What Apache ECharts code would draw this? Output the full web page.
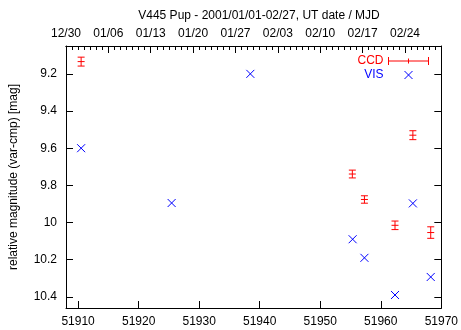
<!DOCTYPE html>
<html>
<head>
<meta charset="utf-8">
<script src="https://cdn.jsdelivr.net/npm/echarts@6/dist/echarts.min.js"></script>
<style>
html,body{margin:0;padding:0;background:#fff;}
#c{width:461px;height:330px;}
</style>
</head>
<body>
<div id="c"></div>
<script>
// ---- data ----
const visMjd = [51910.5, 51925.45, 51938.45, 51955.35, 51957.3, 51962.35, 51965.3, 51968.25];
const visMag = [9.6, 9.895, 9.2, 10.09, 10.19, 10.39, 9.897, 10.293];
const ccdMjd = [51910.5, 51955.3, 51957.3, 51962.35, 51965.3, 51968.25];
const ccdMag = [9.134, 9.739, 9.876, 10.015, 9.53, 10.054];
const ccdErr = [0.024, 0.021, 0.02, 0.023, 0.024, 0.031];
const topLabels = ['12/30','01/06','01/13','01/20','01/27','02/03','02/10','02/17','02/24'];
const mjdStart = 51908;   // 12/30
const mjdEnd = 51970;
const magMin = 9.05, magMax = 10.46;

const FONT = 'Liberation Sans, Arial, sans-serif';
const chart = echarts.init(document.getElementById('c'), null, {renderer:'canvas'});

const ccdData = ccdMjd.map((m,i)=>[m, ccdMag[i], ccdErr[i]]);
const visData = visMjd.map((m,i)=>[m, visMag[i]]);

const lineAxis = {show:true, onZero:false, lineStyle:{color:'#000', width:1}};

const option = {
  animation:false,
  backgroundColor:'#fff',
  title:{
    text:'V445 Pup - 2001/01/01-02/27, UT date / MJD',
    left:254, top:5, textAlign:'center',
    textStyle:{fontFamily:FONT, fontSize:12, fontWeight:'normal', color:'#000'}
  },
  grid:{left:64, right:17, top:46, bottom:22, containLabel:false},
  legend:{
    orient:'vertical', right:27, top:50, align:'right',
    itemWidth:40, itemHeight:8, itemGap:2,
    textStyle:{fontFamily:FONT, fontSize:12},
    data:[
      {name:'CCD', icon:'path://M0,0L0,8M0,4L40,4M40,0L40,8M20,1.5L20,6.5',
       itemStyle:{color:'transparent', borderColor:'#ff0000', borderWidth:1},
       textStyle:{color:'#ff0000'}},
      {name:'VIS', icon:'path://M0,0L0,0M16,0L24,8M24,0L16,8M40,8L40,8',
       itemStyle:{color:'transparent', borderColor:'#0000ff', borderWidth:1},
       textStyle:{color:'#0000ff'}}
    ]
  },
  xAxis:[
    {type:'value', position:'bottom', min:mjdStart, max:mjdEnd, splitNumber:6,
     axisLine:lineAxis, splitLine:{show:false},
     axisTick:{show:true, inside:true, length:7, lineStyle:{color:'#000'}},
     axisLabel:{fontFamily:FONT, fontSize:12, color:'#000', margin:8,
       formatter:v=> (Math.abs(v%10)<1e-9 ? String(v) : '')}},
    {type:'value', position:'top', min:mjdStart, max:mjdEnd, interval:1,
     axisLine:lineAxis, splitLine:{show:false},
     axisTick:{show:true, inside:true, length:4, lineStyle:{color:'#000'}},
     axisLabel:{show:false}},
    {type:'value', position:'top', min:mjdStart, max:mjdEnd, interval:7,
     axisLine:lineAxis, splitLine:{show:false},
     axisTick:{show:true, inside:true, length:7, lineStyle:{color:'#000'}},
     axisLabel:{fontFamily:FONT, fontSize:12, color:'#000', margin:6,
       formatter:v=>{const i=(v-mjdStart)/7; return (Number.isInteger(i)&&i<topLabels.length)?topLabels[i]:'';}}}
  ],
  yAxis:[
    {type:'value', position:'left', inverse:true, min:magMin, max:magMax, splitNumber:7,
     name:'relative magnitude (var-cmp) [mag]', nameLocation:'middle', nameGap:46,
     nameTextStyle:{fontFamily:FONT, fontSize:12, color:'#000'},
     axisLine:lineAxis, splitLine:{show:false},
     axisTick:{show:true, inside:true, length:7, lineStyle:{color:'#000'}},
     axisLabel:{fontFamily:FONT, fontSize:12, color:'#000', margin:9,
       formatter:v=> (Math.abs(v*5-Math.round(v*5))<1e-6 ? String(+v.toFixed(1)) : '')}},
    {type:'value', position:'right', inverse:true, min:magMin, max:magMax, splitNumber:7,
     axisLine:lineAxis, splitLine:{show:false},
     axisTick:{show:true, inside:true, length:7, lineStyle:{color:'#000'}},
     axisLabel:{show:false}}
  ],
  series:[
    {name:'CCD', type:'custom', xAxisIndex:0, yAxisIndex:0, data:ccdData,
     itemStyle:{color:'#ff0000'},
     renderItem:(params, api)=>{
       const x=api.value(0), y=api.value(1), e=api.value(2);
       const c=api.coord([x,y]);
       const t=api.coord([x,y-e]);
       const b=api.coord([x,y+e]);
       const w=3.5;
       const st={stroke:'#ff0000', lineWidth:1, fill:null};
       return {type:'group', children:[
         {type:'line', shape:{x1:c[0],y1:t[1],x2:c[0],y2:b[1]}, style:st},
         {type:'line', shape:{x1:c[0]-w,y1:t[1],x2:c[0]+w,y2:t[1]}, style:st},
         {type:'line', shape:{x1:c[0]-w,y1:b[1],x2:c[0]+w,y2:b[1]}, style:st},
         {type:'line', shape:{x1:c[0]-w,y1:c[1],x2:c[0]+w,y2:c[1]}, style:st}
       ]};
     }},
    {name:'VIS', type:'custom', xAxisIndex:0, yAxisIndex:0, data:visData,
     itemStyle:{color:'#0000ff'},
     renderItem:(params, api)=>{
       const c=api.coord([api.value(0), api.value(1)]);
       const h=4;
       const st={stroke:'#0000ff', lineWidth:1, fill:null};
       return {type:'group', children:[
         {type:'line', shape:{x1:c[0]-h,y1:c[1]-h,x2:c[0]+h,y2:c[1]+h}, style:st},
         {type:'line', shape:{x1:c[0]-h,y1:c[1]+h,x2:c[0]+h,y2:c[1]-h}, style:st}
       ]};
     }}
  ]
};
chart.setOption(option);
</script>
</body>
</html>
